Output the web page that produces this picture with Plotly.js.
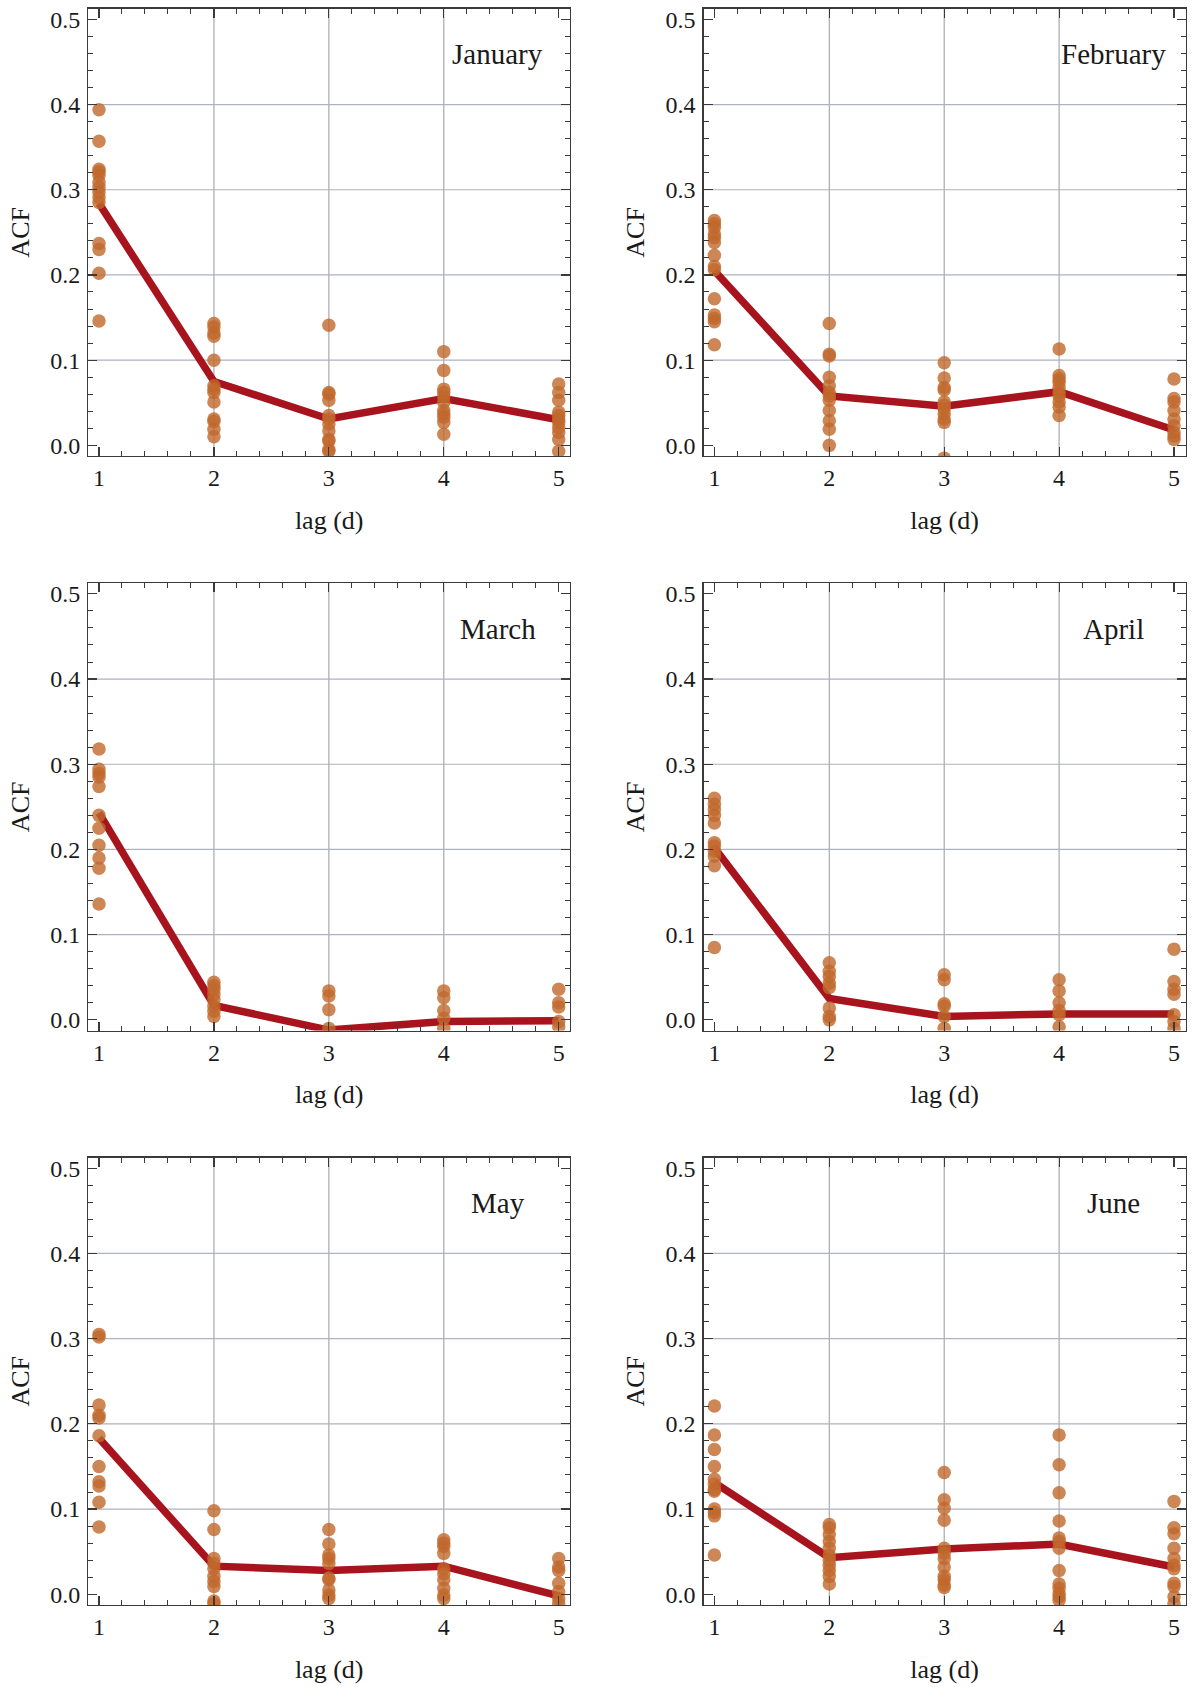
<!DOCTYPE html>
<html>
<head>
<meta charset="utf-8">
<script src="https://cdn.plot.ly/plotly-3.0.1.min.js"></script>
<style>html,body{margin:0;padding:0;background:#fff;}#chart{width:1192px;height:1687px;}</style>
</head>
<body>
<div id="chart"></div>
<script>
// ---- data ----
const months = ['January', 'February', 'March', 'April', 'May', 'June'];
const lags = [1, 2, 3, 4, 5];
const yTickVals = [0.0, 0.1, 0.2, 0.3, 0.4, 0.5];
const xGridVals = [2, 3, 4];
const yGridVals = [0.1, 0.2, 0.3, 0.4];

const janDots = [
  [0.394, 0.357, 0.324, 0.321, 0.317, 0.309, 0.303, 0.297, 0.291, 0.285, 0.237, 0.230, 0.202, 0.146],
  [0.143, 0.139, 0.132, 0.128, 0.100, 0.070, 0.066, 0.062, 0.051, 0.031, 0.028, 0.019, 0.010],
  [0.141, 0.062, 0.060, 0.053, 0.035, 0.031, 0.025, 0.017, 0.007, 0.005, -0.005, -0.007],
  [0.110, 0.088, 0.066, 0.062, 0.057, 0.051, 0.041, 0.037, 0.033, 0.027, 0.013],
  [0.072, 0.062, 0.053, 0.039, 0.035, 0.031, 0.027, 0.021, 0.015, 0.007, -0.007]
];
const janMean = [0.284, 0.075, 0.031, 0.055, 0.030];

const febDots = [
  [0.264, 0.260, 0.256, 0.248, 0.244, 0.238, 0.223, 0.210, 0.206, 0.172, 0.153, 0.149, 0.145, 0.118],
  [0.143, 0.107, 0.105, 0.080, 0.070, 0.062, 0.058, 0.053, 0.041, 0.029, 0.019, 0.000],
  [0.097, 0.079, 0.068, 0.065, 0.051, 0.047, 0.043, 0.037, 0.031, 0.027, -0.015],
  [0.113, 0.082, 0.078, 0.074, 0.068, 0.062, 0.058, 0.051, 0.045, 0.035],
  [0.078, 0.055, 0.051, 0.041, 0.031, 0.023, 0.015, 0.011, 0.007]
];
const febMean = [0.205, 0.058, 0.046, 0.063, 0.018];

const marDots = [
  [0.318, 0.294, 0.289, 0.285, 0.274, 0.240, 0.225, 0.205, 0.190, 0.178, 0.136],
  [0.044, 0.040, 0.036, 0.030, 0.024, 0.016, 0.010, 0.004],
  [0.034, 0.028, 0.012, -0.010],
  [0.034, 0.026, 0.011, 0.002, -0.010],
  [0.036, 0.020, 0.015, -0.002, -0.008]
];
const marMean = [0.243, 0.017, -0.012, -0.002, -0.001];

const aprDots = [
  [0.260, 0.253, 0.247, 0.240, 0.231, 0.208, 0.204, 0.198, 0.192, 0.181, 0.085],
  [0.067, 0.057, 0.051, 0.043, 0.038, 0.014, 0.004, 0.000],
  [0.053, 0.047, 0.019, 0.016, 0.004, -0.010],
  [0.047, 0.034, 0.020, 0.011, 0.006, -0.008],
  [0.083, 0.045, 0.036, 0.030, 0.006, -0.002, -0.010]
];
const aprMean = [0.202, 0.025, 0.004, 0.007, 0.007];

const mayDots = [
  [0.305, 0.302, 0.222, 0.210, 0.207, 0.186, 0.150, 0.132, 0.127, 0.108, 0.079],
  [0.098, 0.076, 0.042, 0.036, 0.030, 0.021, 0.015, 0.009, -0.008, -0.011],
  [0.076, 0.059, 0.046, 0.042, 0.036, 0.019, 0.017, 0.005, -0.001, -0.005],
  [0.064, 0.060, 0.056, 0.048, 0.030, 0.024, 0.017, 0.007, -0.001, -0.005],
  [0.042, 0.032, 0.028, 0.013, 0.003, -0.005, -0.011]
];
const mayMean = [0.183, 0.033, 0.028, 0.033, -0.002];

const junDots = [
  [0.221, 0.187, 0.170, 0.150, 0.135, 0.129, 0.123, 0.121, 0.100, 0.096, 0.092, 0.046],
  [0.082, 0.078, 0.070, 0.062, 0.054, 0.046, 0.040, 0.034, 0.028, 0.021, 0.012],
  [0.143, 0.111, 0.101, 0.087, 0.054, 0.048, 0.042, 0.032, 0.021, 0.017, 0.011, 0.008],
  [0.187, 0.152, 0.119, 0.086, 0.066, 0.062, 0.054, 0.028, 0.012, 0.007, 0.001, -0.003, -0.007],
  [0.109, 0.078, 0.071, 0.054, 0.042, 0.034, 0.030, 0.013, 0.009, -0.003, -0.011]
];
const junMean = [0.131, 0.043, 0.053, 0.059, 0.032];

const allDots = [janDots, febDots, marDots, aprDots, mayDots, junDots];
const allMeans = [janMean, febMean, marMean, aprMean, mayMean, junMean];

// ---- layout geometry ----
const W = 1192, H = 1687;
const colPx = [[88.2, 570.2], [703.6, 1185.5]];
const rowPx = [[8.6, 456.1], [583.1, 1030.6], [1157.5, 1605.0]];

const FONT = '"Liberation Serif", "Times New Roman", serif';
const dotColor = 'rgba(193,104,44,0.80)';
const lineColor = '#a8141e';

const traces = [];
const layout = {
  width: W, height: H,
  margin: {l: 0, r: 0, t: 0, b: 0},
  paper_bgcolor: '#ffffff', plot_bgcolor: '#ffffff',
  showlegend: false,
  font: {family: FONT, size: 24, color: '#1a1a1a'},
  shapes: [], annotations: []
};

months.forEach((m, i) => {
  const r = Math.floor(i / 2), c = i % 2;
  const sfx = i === 0 ? '' : String(i + 1);
  const xa = 'x' + sfx, ya = 'y' + sfx;

  // mean line (drawn below the dots)
  traces.push({
    type: 'scatter', mode: 'lines', x: lags, y: allMeans[i],
    xaxis: xa, yaxis: ya, hoverinfo: 'skip',
    line: {color: lineColor, width: 7.5}
  });
  // scatter dots
  const xs = [], ys = [];
  allDots[i].forEach((arr, k) => arr.forEach(v => { xs.push(lags[k]); ys.push(v); }));
  traces.push({
    type: 'scatter', mode: 'markers', x: xs, y: ys,
    xaxis: xa, yaxis: ya,
    marker: {color: dotColor, size: 13.5, line: {width: 0}}
  });

  const common = {
    showline: true, linecolor: '#3a3a3a', linewidth: 1.2, mirror: 'allticks',
    ticks: 'inside', ticklen: 9, tickwidth: 1.2, tickcolor: '#3a3a3a',
    showgrid: false, zeroline: false,
    tickfont: {family: FONT, size: 24, color: '#1a1a1a'}
  };
  layout['xaxis' + sfx] = Object.assign({}, common, {
    domain: [colPx[c][0] / W, colPx[c][1] / W],
    anchor: ya, range: [0.906, 5.10],
    tickmode: 'array', tickvals: lags, ticktext: lags.map(String),
    ticklabelstandoff: 0,
    minor: {ticks: 'inside', ticklen: 5, tickwidth: 1, tickcolor: '#3a3a3a', dtick: 0.2, tick0: 0},
    title: {text: 'lag (d)', font: {family: FONT, size: 26, color: '#1a1a1a'}, standoff: 20}
  });
  layout['yaxis' + sfx] = Object.assign({}, common, {
    domain: [1 - rowPx[r][1] / H, 1 - rowPx[r][0] / H],
    anchor: xa, range: [-0.0126, 0.5126],
    tickmode: 'array', tickvals: yTickVals, ticktext: yTickVals.map(v => v.toFixed(1)),
    ticklabelstandoff: 2,
    minor: {ticks: 'inside', ticklen: 5, tickwidth: 1, tickcolor: '#3a3a3a', dtick: 0.02, tick0: 0},
    title: {text: 'ACF', font: {family: FONT, size: 26, color: '#1a1a1a'}, standoff: 13}
  });

  // interior grid lines
  xGridVals.forEach(g => layout.shapes.push({
    type: 'line', layer: 'below', xref: xa, yref: ya + ' domain',
    x0: g, x1: g, y0: 0, y1: 1, line: {color: '#a9a9a9', width: 1.2}
  }));
  yGridVals.forEach(g => layout.shapes.push({
    type: 'line', layer: 'below', xref: xa + ' domain', yref: ya,
    x0: 0, x1: 1, y0: g, y1: g, line: {color: '#aeb2bf', width: 1.2}
  }));

  layout.annotations.push({
    text: m, xref: xa + ' domain', yref: ya + ' domain',
    x: 0.85, y: 0.898, xanchor: 'center', yanchor: 'middle', showarrow: false,
    font: {family: FONT, size: 29, color: '#1a1a1a'}
  });
});

Plotly.newPlot('chart', traces, layout, {displayModeBar: false, staticPlot: true});
</script>
</body>
</html>
